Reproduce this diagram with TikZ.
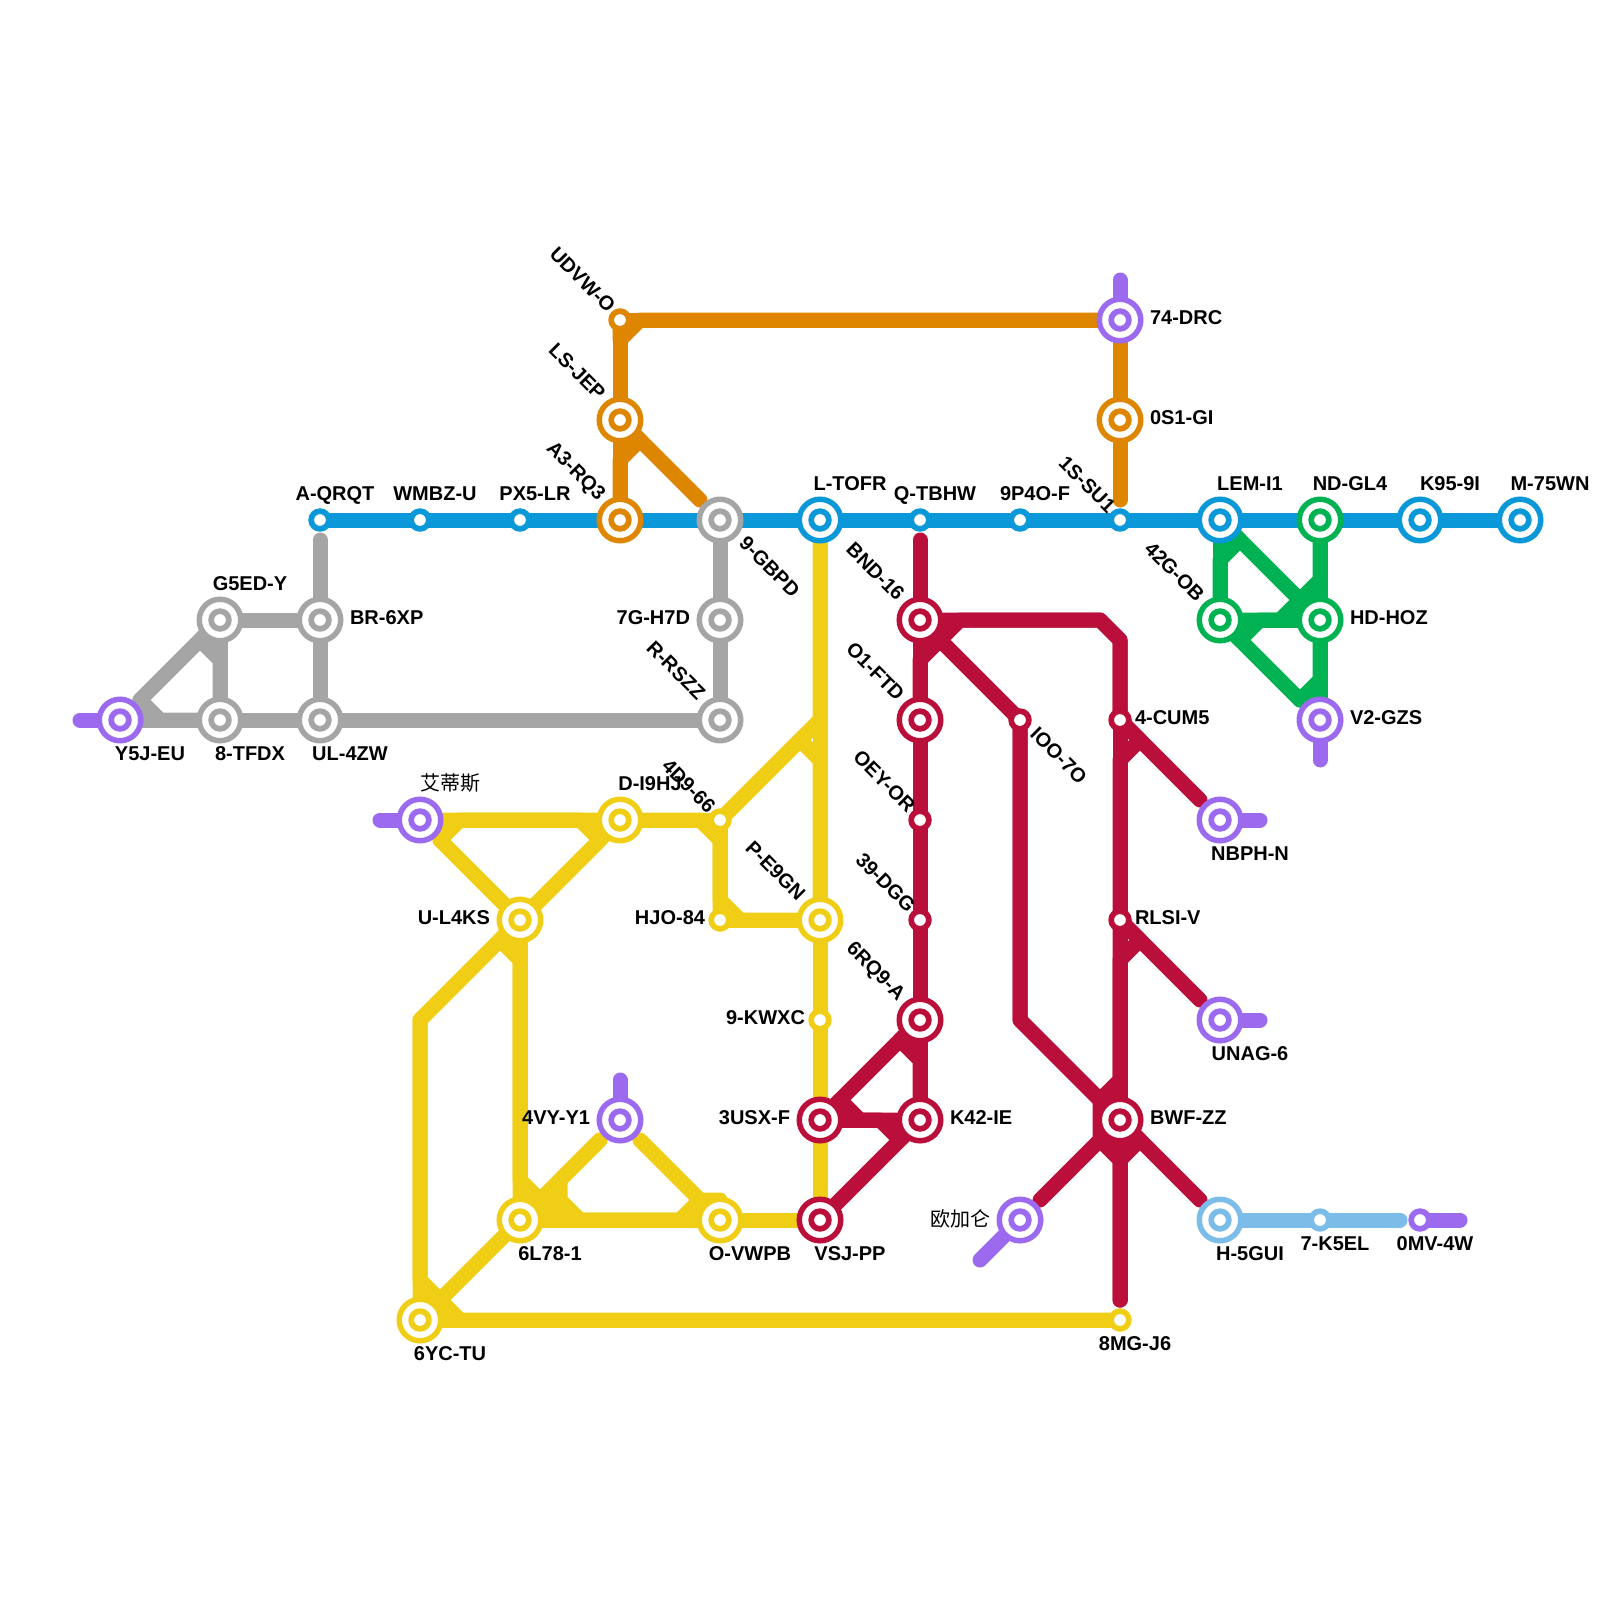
\documentclass[tikz,border=0pt]{standalone}
\usepackage{fontspec}
\usetikzlibrary{calc}
\setmainfont{Liberation Sans}
\newfontfamily\cjk{Noto Sans CJK SC}
\definecolor{cblue}{HTML}{0A98D8}
\definecolor{cgray}{HTML}{A5A5A5}
\definecolor{corange}{HTML}{DF8600}
\definecolor{ccrim}{HTML}{BA0F3A}
\definecolor{cyel}{HTML}{F0CE15}
\definecolor{cgreen}{HTML}{00B251}
\definecolor{cpurp}{HTML}{9B6AEE}
\definecolor{clight}{HTML}{7BBDE8}
\pgfdeclarelayer{lines}
\pgfsetlayers{lines,main}
\tikzset{
  bigst/.style={circle,draw=#1,fill=white,line width=2.75pt,minimum size=20.75pt,inner sep=0pt,outer sep=0pt,
    path picture={\draw[#1,line width=2.85pt] (path picture bounding box.center) circle (4.425pt);}},
  smallst/.style={circle,draw=#1,fill=white,line width=2.85pt,minimum size=8.85pt,inner sep=0pt,outer sep=0pt},
  rail/.style={draw=#1,line width=7.5pt,line cap=round,line join=round},
  lab/.style={font=\bfseries\fontsize{10pt}{12pt}\selectfont,text=black,inner sep=0pt,outer sep=0pt},
  cjklab/.style={font=\cjk\fontsize{10pt}{12pt}\selectfont,text=black,inner sep=0pt,outer sep=0pt},
  up/.style={lab,anchor=base},
  lf/.style={lab,anchor=base east},
  rt/.style={lab,anchor=base west},
  nw/.style={lab,rotate=-45,anchor=east},
  se/.style={lab,rotate=-45,anchor=west},
}
\begin{document}
\begin{tikzpicture}[x=0.5pt,y=-0.5pt]
\useasboundingbox (0,0) rectangle (1600,1600);
% stations
\node[smallst=cblue] (qrqt) at (320,520) {};
\node[smallst=cblue] (wmbz) at (420,520) {};
\node[smallst=cblue] (pxlr) at (520,520) {};
\node[bigst=corange] (arq) at (620,520) {};
\node[bigst=cgray] (gbpd) at (720,520) {};
\node[bigst=cblue] (tofr) at (820,520) {};
\node[smallst=cblue] (tbhw) at (920,520) {};
\node[smallst=cblue] (pof) at (1020,520) {};
\node[smallst=cblue] (ssu) at (1120,520) {};
\node[bigst=cblue] (lem) at (1220,520) {};
\node[bigst=cgreen] (nd) at (1320,520) {};
\node[bigst=cblue] (kn) at (1420,520) {};
\node[bigst=cblue] (mwn) at (1520,520) {};
\node[bigst=cgray] (ged) at (220,620) {};
\node[bigst=cgray] (brx) at (320,620) {};
\node[bigst=cpurp] (yj) at (120,720) {};
\node[bigst=cgray] (tfdx) at (220,720) {};
\node[bigst=cgray] (ulz) at (320,720) {};
\node[bigst=cgray] (ghd) at (720,620) {};
\node[bigst=cgray] (rsz) at (720,720) {};
\node[smallst=corange] (udv) at (620,320) {};
\node[bigst=corange] (lsj) at (620,420) {};
\node[bigst=cpurp] (drc) at (1120,320) {};
\node[bigst=corange] (sgi) at (1120,420) {};
\node[bigst=cgreen] (gob) at (1220,620) {};
\node[bigst=cgreen] (hd) at (1320,620) {};
\node[bigst=cpurp] (gzs) at (1320,720) {};
\node[bigst=cpurp] (ai) at (420,820) {};
\node[bigst=cyel] (ihj) at (620,820) {};
\node[smallst=cyel] (dn) at (720,820) {};
\node[bigst=cyel] (ukl) at (520,920) {};
\node[smallst=cyel] (hjo) at (720,920) {};
\node[bigst=cyel] (pe) at (820,920) {};
\node[smallst=cyel] (kwx) at (820,1020) {};
\node[bigst=cpurp] (vy) at (620,1120) {};
\node[bigst=cyel] (lse) at (520,1220) {};
\node[bigst=cyel] (vwp) at (720,1220) {};
\node[bigst=cyel] (yct) at (420,1320) {};
\node[smallst=cyel] (mgj) at (1120,1320) {};
\node[bigst=ccrim] (usx) at (820,1120) {};
\node[bigst=ccrim] (vsj) at (820,1220) {};
\node[bigst=ccrim] (bnd) at (920,620) {};
\node[bigst=ccrim] (oft) at (920,720) {};
\node[smallst=ccrim] (oey) at (920,820) {};
\node[smallst=ccrim] (dgg) at (920,920) {};
\node[bigst=ccrim] (rq) at (920,1020) {};
\node[bigst=ccrim] (kie) at (920,1120) {};
\node[smallst=ccrim] (ioo) at (1020,720) {};
\node[smallst=ccrim] (cum) at (1120,720) {};
\node[smallst=ccrim] (rls) at (1120,920) {};
\node[bigst=ccrim] (bwf) at (1120,1120) {};
\node[bigst=cpurp] (nbp) at (1220,820) {};
\node[bigst=cpurp] (una) at (1220,1020) {};
\node[bigst=clight] (hgu) at (1220,1220) {};
\node[bigst=cpurp] (ou) at (1020,1220) {};
\node[smallst=clight] (kel) at (1320,1220) {};
\node[smallst=cpurp] (omv) at (1420,1220) {};
% connectors
\begin{pgfonlayer}{lines}
% purple stubs
\draw[rail=cpurp] (yj.center) -- ++(-40,0);
\draw[rail=cpurp] (drc.center) -- ++(0,-40);
\draw[rail=cpurp] (gzs.center) -- ++(0,40);
\draw[rail=cpurp] (ai.center) -- ++(-40,0);
\draw[rail=cpurp] (vy.center) -- ++(0,-40);
\draw[rail=cpurp] (nbp.center) -- ++(40,0);
\draw[rail=cpurp] (una.center) -- ++(40,0);
\draw[rail=cpurp] (ou.center) -- ++(-40,40);
\draw[rail=cpurp] (omv.center) -- ++(40,0);
% orange
\draw[rail=corange] (udv.center) -- (drc.center);
\draw[rail=corange] (udv.center) -- (lsj.center);
\draw[rail=corange] (udv.center) -- ++(0,20) -- ++(20,-20) -- (drc.center);
\draw[rail=corange] (lsj.center) -- (arq.center);
\draw[rail=corange] (lsj.center) -- ++(20,20) -- ++(-20,20) -- (arq.center);
\draw[rail=corange] (lsj.center) -- ($(gbpd.center)+(-20,-20)$);
\draw[rail=corange] (drc.center) -- (sgi.center);
\draw[rail=corange] (sgi.center) -- ($(ssu.center)+(0,-20)$);
% gray
\draw[rail=cgray] ($(qrqt.center)+(0,20)$) -- (brx.center);
\draw[rail=cgray] (brx.center) -- (ulz.center);
\draw[rail=cgray] (ged.center) -- (brx.center);
\draw[rail=cgray] ($(yj.center)+(20,-20)$) -- (ged.center);
\draw[rail=cgray] (ged.center) -- (tfdx.center);
\draw[rail=cgray] (ged.center) -- ++(-20,20) -- ++(20,20) -- (tfdx.center);
\draw[rail=cgray] ($(yj.center)+(20,0)$) -- (tfdx.center);
\draw[rail=cgray] ($(yj.center)+(20,-20)$) -- ++(20,20) -- (tfdx.center);
\draw[rail=cgray] (tfdx.center) -- (ulz.center);
\draw[rail=cgray] (ulz.center) -- (rsz.center);
\draw[rail=cgray] (gbpd.center) -- (ghd.center);
\draw[rail=cgray] (ghd.center) -- (rsz.center);
% yellow
\draw[rail=cyel] (tofr.center) -- (pe.center);
\draw[rail=cyel] (tofr.center) -- ++(0,200) -- (dn.center);
\draw[rail=cyel] (dn.center) -- ++(80,-80) -- ++(20,20) -- (pe.center);
\draw[rail=cyel] (dn.center) -- (hjo.center);
\draw[rail=cyel] (dn.center) -- ++(0,80) -- ++(20,20) -- (pe.center);
\draw[rail=cyel] (hjo.center) -- (pe.center);
\draw[rail=cyel] (ihj.center) -- (dn.center);
\draw[rail=cyel] (ihj.center) -- ++(80,0) -- ++(20,20) -- (hjo.center);
\draw[rail=cyel] ($(ai.center)+(20,0)$) -- (ihj.center);
\draw[rail=cyel] ($(ai.center)+(20,20)$) -- ++(20,-20) -- (ihj.center);
\draw[rail=cyel] (ukl.center) -- ++(80,-80) -- ++(-20,-20) -- ($(ai.center)+(20,0)$);
\draw[rail=cyel] ($(ai.center)+(20,20)$) -- (ukl.center);
\draw[rail=cyel] (ukl.center) -- (ihj.center);
\draw[rail=cyel] (ukl.center) -- ++(-100,100) -- (yct.center);
\draw[rail=cyel] (ukl.center) -- ++(-100,100) -- ++(0,260) -- ++(40,40) -- (mgj.center);
\draw[rail=cyel] (yct.center) -- (mgj.center);
\draw[rail=cyel] (ukl.center) -- (lse.center);
\draw[rail=cyel] (ukl.center) -- ++(-20,20) -- ++(20,20) -- (lse.center);
\draw[rail=cyel] (ukl.center) -- ++(0,260) -- ++(20,20) -- (lse.center);
\draw[rail=cyel] (lse.center) -- ($(vy.center)+(-20,20)$);
\draw[rail=cyel] ($(vy.center)+(-20,20)$) -- ++(-40,40) -- ++(0,20) -- ++(20,20) -- (vwp.center);
\draw[rail=cyel] ($(lse.center)+(20,-15)$) -- ++(20,0);
\draw[rail=cyel] ($(vy.center)+(20,20)$) -- (vwp.center);
\draw[rail=cyel] (lse.center) -- (vwp.center);
\draw[rail=cyel] (lse.center) -- ++(160,0) -- ++(20,-20) -- ++(20,0) -- (vwp.center);
\draw[rail=cyel] (vwp.center) -- (vsj.center);
\draw[rail=cyel] (lse.center) -- (yct.center);
\draw[rail=cyel] (pe.center) -- (kwx.center);
\draw[rail=cyel] (kwx.center) -- (usx.center);
\draw[rail=cyel] (usx.center) -- (vsj.center);
% crimson
\draw[rail=ccrim] ($(tbhw.center)+(0,20)$) -- (bnd.center);
\draw[rail=ccrim] (bnd.center) -- (oft.center);
\draw[rail=ccrim] (bnd.center) -- ++(20,20) -- ++(-20,20) -- (oft.center);
\draw[rail=ccrim] (oft.center) -- (oey.center);
\draw[rail=ccrim] (oey.center) -- (dgg.center);
\draw[rail=ccrim] (dgg.center) -- (rq.center);
\draw[rail=ccrim] (rq.center) -- (kie.center);
\draw[rail=ccrim] (rq.center) -- ++(-20,20) -- ++(20,20) -- (kie.center);
\draw[rail=ccrim] (rq.center) -- (usx.center);
\draw[rail=ccrim] (usx.center) -- (kie.center);
\draw[rail=ccrim] (usx.center) -- ++(20,-20) -- ++(20,20) -- (kie.center);
\draw[rail=ccrim] (kie.center) -- ++(-20,20) -- ++(-20,-20) -- (usx.center);
\draw[rail=ccrim] (kie.center) -- (vsj.center);
\draw[rail=ccrim] (bnd.center) -- ++(180,0) -- ++(20,20) -- (cum.center);
\draw[rail=ccrim] (bnd.center) -- ++(20,20) -- ++(20,-20) -- ++(140,0) -- ++(20,20) -- (cum.center);
\draw[rail=ccrim] (bnd.center) -- (ioo.center);
\draw[rail=ccrim] (ioo.center) -- ++(0,300) -- (bwf.center);
\draw[rail=ccrim] (ioo.center) -- ++(0,300) -- ++(80,80) -- ++(0,40) -- ++(20,20) -- ($(mgj.center)+(0,-20)$);
\draw[rail=ccrim] (cum.center) -- (rls.center);
\draw[rail=ccrim] (cum.center) -- ++(20,20) -- ++(-20,20) -- (rls.center);
\draw[rail=ccrim] (cum.center) -- ($(nbp.center)+(-20,-20)$);
\draw[rail=ccrim] (rls.center) -- (bwf.center);
\draw[rail=ccrim] (rls.center) -- ++(20,20) -- ++(-20,20) -- (bwf.center);
\draw[rail=ccrim] (rls.center) -- ++(0,160) -- ++(-20,20) -- (bwf.center);
\draw[rail=ccrim] (rls.center) -- ($(una.center)+(-20,-20)$);
\draw[rail=ccrim] (bwf.center) -- ($(ou.center)+(20,-20)$);
\draw[rail=ccrim] (bwf.center) -- ($(hgu.center)+(-20,-20)$);
\draw[rail=ccrim] (bwf.center) -- ($(mgj.center)+(0,-20)$);
\draw[rail=ccrim] (bwf.center) -- ++(20,20) -- ++(-20,20) -- ($(mgj.center)+(0,-20)$);
% green
\draw[rail=cgreen] (lem.center) -- (gob.center);
\draw[rail=cgreen] (lem.center) -- ++(20,20) -- ++(-20,20) -- (gob.center);
\draw[rail=cgreen] (lem.center) -- (hd.center);
\draw[rail=cgreen] (gob.center) -- ++(60,0) -- ++(40,-40) -- (nd.center);
\draw[rail=cgreen] (nd.center) -- (hd.center);
\draw[rail=cgreen] (gob.center) -- (hd.center);
\draw[rail=cgreen] (gob.center) -- ($(gzs.center)+(-20,-20)$);
\draw[rail=cgreen] (gob.center) -- ++(20,20) -- ++(20,-20) -- (hd.center);
\draw[rail=cgreen] (hd.center) -- ($(gzs.center)+(0,-20)$);
\draw[rail=cgreen] (hd.center) -- ++(0,60) -- ++(-20,20);
% light blue
\draw[rail=clight] (hgu.center) -- (kel.center);
\draw[rail=clight] (kel.center) -- ($(omv.center)+(-20,0)$);
% blue
\draw[rail=cblue] (qrqt.center) -- (wmbz.center);
\draw[rail=cblue] (wmbz.center) -- (pxlr.center);
\draw[rail=cblue] (pxlr.center) -- (arq.center);
\draw[rail=cblue] (arq.center) -- (gbpd.center);
\draw[rail=cblue] (gbpd.center) -- (tofr.center);
\draw[rail=cblue] (tofr.center) -- (tbhw.center);
\draw[rail=cblue] (tbhw.center) -- (pof.center);
\draw[rail=cblue] (pof.center) -- (ssu.center);
\draw[rail=cblue] (ssu.center) -- (lem.center);
\draw[rail=cblue] (lem.center) -- (nd.center);
\draw[rail=cblue] (nd.center) -- (kn.center);
\draw[rail=cblue] (kn.center) -- (mwn.center);
\end{pgfonlayer}
% labels above / below
\node[up] (t1) at (335,500) {A-QRQT};
\node[up] (t2) at (435,500) {WMBZ-U};
\node[up] (t3) at (535,500) {PX5-LR};
\node[up] (t4) at (850,490) {L-TOFR};
\node[up] (t5) at (935,500) {Q-TBHW};
\node[up] (t6) at (1035,500) {9P4O-F};
\node[up] (t7) at (1250,490) {LEM-I1};
\node[up] (t8) at (1350,490) {ND-GL4};
\node[up] (t9) at (1450,490) {K95-9I};
\node[up] (t10) at (1550,490) {M-75WN};
\node[up] (t11) at (250,590) {G5ED-Y};
\node[up] (t12) at (150,760) {Y5J-EU};
\node[up] (t13) at (250,760) {8-TFDX};
\node[up] (t14) at (350,760) {UL-4ZW};
\node[cjklab,anchor=base] (t15) at (450,790) {艾蒂斯};
\node[up] (t16) at (650,790) {D-I9HJ};
\node[up] (t17) at (1250,860) {NBPH-N};
\node[up] (t18) at (1250,1060) {UNAG-6};
\node[up] (t19) at (1250,1260) {H-5GUI};
\node[up] (t20) at (550,1260) {6L78-1};
\node[up] (t21) at (750,1260) {O-VWPB};
\node[up] (t22) at (850,1260) {VSJ-PP};
\node[up] (t23) at (450,1360) {6YC-TU};
\node[up] (t24) at (1135,1350) {8MG-J6};
\node[up] (t25) at (1335,1250) {7-K5EL};
\node[up] (t26) at (1435,1250) {0MV-4W};
% labels right
\node[rt] (r1) at (350,624) {BR-6XP};
\node[rt] (r2) at (1150,324) {74-DRC};
\node[rt] (r3) at (1150,424) {0S1-GI};
\node[rt] (r4) at (1350,624) {HD-HOZ};
\node[rt] (r5) at (1350,724) {V2-GZS};
\node[rt] (r6) at (950,1124) {K42-IE};
\node[rt] (r7) at (1150,1124) {BWF-ZZ};
\node[rt] (r8) at (1135,724) {4-CUM5};
\node[rt] (r9) at (1135,924) {RLSI-V};
% labels left
\node[lf] (l1) at (690,624) {7G-H7D};
\node[lf] (l2) at (490,924) {U-L4KS};
\node[lf] (l3) at (590,1124) {4VY-Y1};
\node[lf] (l4) at (790,1124) {3USX-F};
\node[lf] (l5) at (705,924) {HJO-84};
\node[lf] (l6) at (805,1024) {9-KWXC};
\node[cjklab,anchor=base east] (l7) at (990,1226) {欧加仑};
% rotated labels
\node[nw] (n1) at (612,309) {UDVW-O};
\node[nw] (n2) at (602,396) {LS-JEP};
\node[nw] (n3) at (601,498) {A3-RQ3};
\node[nw] (n4) at (712,809) {4D9-66};
\node[nw] (n5) at (1112,509) {1S-SU1};
\node[nw] (n6) at (901,597) {BND-16};
\node[nw] (n7) at (901,697) {O1-FTD};
\node[nw] (n8) at (912,809) {OEY-OR};
\node[nw] (n9) at (912,909) {39-DGG};
\node[nw] (n10) at (901,998) {6RQ9-A};
\node[nw] (n11) at (802,897) {P-E9GN};
\node[nw] (n12) at (702,696) {R-RSZZ};
\node[nw] (n13) at (1201,598) {42G-OB};
\node[se] (s1) at (743,540) {9-GBPD};
\node[se] (s2) at (1034,731) {IOO-7O};
\end{tikzpicture}
\end{document}
